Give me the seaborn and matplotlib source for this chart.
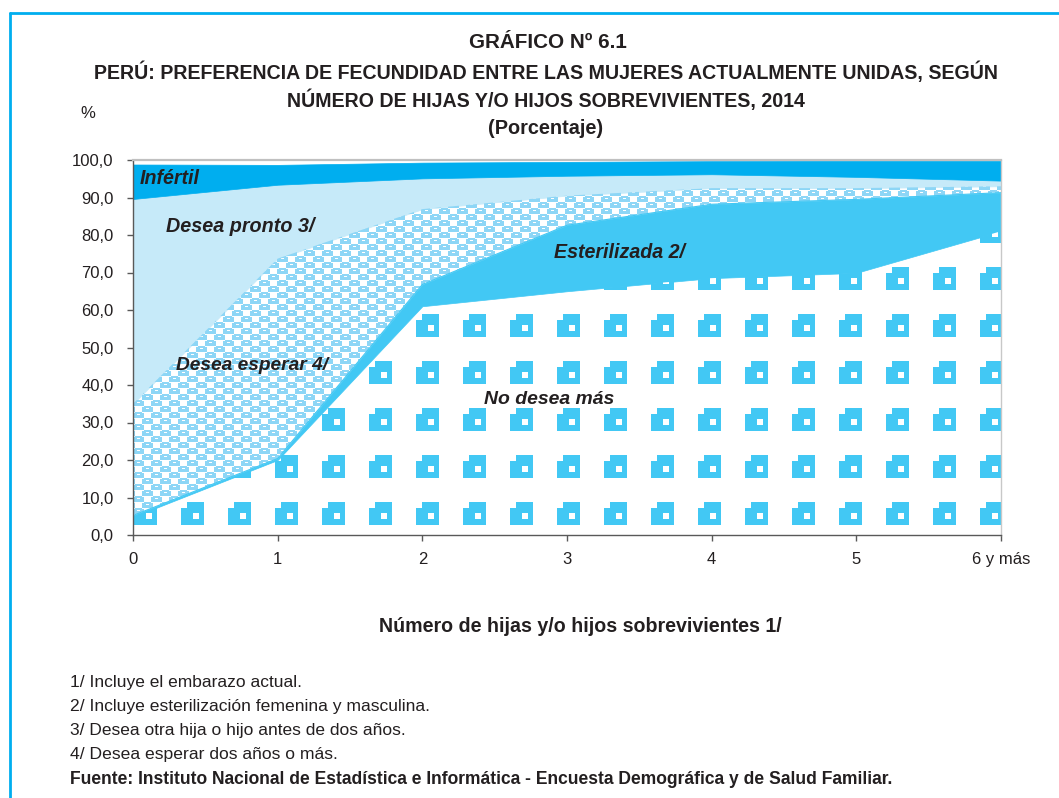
import numpy as np
import pandas as pd
import matplotlib
matplotlib.use("Agg")
import matplotlib.pyplot as plt
import seaborn as sns
from matplotlib.path import Path
from matplotlib.colors import to_rgba
from matplotlib.lines import Line2D

# ---------------- data ----------------
hijos = [0, 1, 2, 3, 4, 5, 6]
x_labels = ["0", "1", "2", "3", "4", "5", "6 y más"]
no_desea = [4.8, 20.0, 61.0, 65.0, 68.5, 69.9, 81.0]
esterilizada = [0.4, 0.4, 5.8, 17.6, 19.7, 19.6, 10.3]
desea_esperar = [29.8, 53.3, 20.1, 7.9, 4.3, 3.0, 1.7]
desea_pronto = [54.6, 19.7, 8.2, 5.3, 3.7, 3.0, 1.5]
infertil = [9.2, 5.3, 4.2, 3.7, 3.5, 4.3, 5.3]
y_ticks = [0, 10, 20, 30, 40, 50, 60, 70, 80, 90, 100]

df = pd.DataFrame({"hijos": hijos, "no_desea": no_desea, "esterilizada": esterilizada,
                   "esperar": desea_esperar, "pronto": desea_pronto, "infertil": infertil})
layers = ["no_desea", "esterilizada", "esperar", "pronto", "infertil"]
cum = df[layers].cumsum(axis=1)

# ---------------- style ----------------
sns.set_theme(style="white")
plt.rcParams["font.family"] = ["Liberation Sans Narrow", "Liberation Sans", "DejaVu Sans"]
TXT = "#231f20"
C_INF = "#00aeef"
C_PRONTO = "#c6eaf9"
C_EST = "#42c8f4"
C_ESP = "#8dd6f6"
C_SQ = "#42c8f4"

W_FIG, H_FIG = 1059, 798
fig = plt.figure(figsize=(W_FIG / 100, H_FIG / 100), dpi=100)
fig.patch.set_facecolor("white")
ax = fig.add_axes([133 / W_FIG, 1 - 535 / H_FIG, 868 / W_FIG, 375 / H_FIG])
ax.set_facecolor("white")

x = df["hijos"].values
bottoms = {}
prev = np.zeros(len(x))
fills = {"no_desea": "white", "esterilizada": C_EST, "esperar": "white",
         "pronto": C_PRONTO, "infertil": C_INF}
for name in layers:
    top = cum[name].values
    ax.fill_between(x, prev, top, facecolor=fills[name],
                    edgecolor=fills[name] if fills[name] != "white" else "none",
                    linewidth=0.5, zorder=2)
    bottoms[name] = (prev.copy(), top.copy())
    prev = top

# thin boundary of the sterilization band (seaborn line)
sns.lineplot(x=x, y=cum["esterilizada"].values, color=C_EST, linewidth=0.8, ax=ax, zorder=4)

ax.set_xlim(0, 6)
ax.set_ylim(0, 100)

fig.canvas.draw()
renderer = fig.canvas.get_renderer()
bb = ax.get_window_extent(renderer)
W, H = int(round(bb.width)), int(round(bb.height))

def region_path(name):
    lo, hi = bottoms[name]
    verts = list(zip(x, hi)) + list(zip(x[::-1], lo[::-1])) + [(x[0], hi[0])]
    codes = [Path.MOVETO] + [Path.LINETO] * (len(verts) - 2) + [Path.CLOSEPOLY]
    return Path(verts, codes)

# pattern of squares for "No desea más"
sq = np.zeros((H, W, 4))
blue = np.array(to_rgba(C_SQ))
def put(arr, r0, r1, c0, c1, val):
    r0c, r1c = max(r0, 0), min(r1, H)
    c0c, c1c = max(c0, 0), min(c1, W)
    if r0c < r1c and c0c < c1c:
        arr[r0c:r1c, c0c:c1c] = val
for k in range(-1, W // 47 + 2):
    for j in range(-1, H // 47 + 2):
        left = 1 + 47 * k
        topr = (H - 33) - 47 * j
        put(sq, topr, topr + 23, left, left + 23, blue)
        put(sq, topr, topr + 6, left, left + 6, np.array([0, 0, 0, 0.0]))
        put(sq, topr + 11, topr + 17, left + 12, left + 18, np.array([1, 1, 1, 1.0]))
im1 = ax.imshow(sq, extent=(0, 6, 0, 100), origin="upper", interpolation="nearest",
                aspect="auto", zorder=3)
im1.set_clip_path(region_path("no_desea"), ax.transData)

# pattern for "Desea esperar"
half = np.zeros((6, 18), dtype=bool)
half[0, 2:9] = True
half[1:6, 0:11] = True
half[2, 4:7] = False
tile = np.vstack([half, np.roll(half, 9, axis=1)])
reps = (H // 12 + 2, W // 18 + 2)
big = np.tile(tile, reps)[:H, :W]
esp = np.zeros((H, W, 4))
esp[big] = to_rgba(C_ESP)
im2 = ax.imshow(esp, extent=(0, 6, 0, 100), origin="upper", interpolation="nearest",
                aspect="auto", zorder=3)
im2.set_clip_path(region_path("esperar"), ax.transData)
ax.set_xlim(0, 6)
ax.set_ylim(0, 100)

# ---------------- axes styling ----------------
for s in ["left", "bottom"]:
    ax.spines[s].set_color("#595959")
    ax.spines[s].set_linewidth(1.0)
ax.spines["top"].set_color("#c0c0c0")
ax.spines["top"].set_linewidth(1.6)
ax.spines["right"].set_color("#c8c8c8")
ax.spines["right"].set_linewidth(1.0)
for s in ax.spines.values():
    s.set_zorder(6)

ax.set_xticks(hijos)
ax.set_xticklabels(x_labels)
ax.set_yticks(y_ticks)
ax.set_yticklabels([f"{v:.1f}".replace(".", ",") for v in y_ticks])
ax.tick_params(axis="both", which="major", direction="out", length=4.5, width=1,
               color="#595959", labelcolor=TXT, labelsize=12, bottom=True, left=True)
ax.tick_params(axis="y", pad=9.5)
ax.tick_params(axis="x", pad=8)
ax.grid(False)

# ---------------- texts ----------------
def fit(t, width_px):
    w = t.get_window_extent(renderer).width
    if w > 0:
        t.set_fontsize(t.get_fontsize() * width_px / w)

def ftext(cx, cy, s, width, **kw):
    t = fig.text(cx / W_FIG, 1 - cy / H_FIG, s, fontsize=12, color=TXT, **kw)
    if width:
        fit(t, width)
    return t

ftext(548, 42, "GRÁFICO Nº 6.1", 157, ha="center", va="center", weight="bold")
ftext(546, 72, "PERÚ: PREFERENCIA DE FECUNDIDAD ENTRE LAS MUJERES ACTUALMENTE UNIDAS, SEGÚN",
      908, ha="center", va="center", weight="bold")
ftext(546, 100, "NÚMERO DE HIJAS Y/O HIJOS SOBREVIVIENTES, 2014", 519,
      ha="center", va="center", weight="bold")
ftext(546, 128, "(Porcentaje)", 115, ha="center", va="center", weight="bold")
ftext(88, 113, "%", None, ha="center", va="center")
ftext(580, 627, "Número de hijas y/o hijos sobrevivientes 1/", 401,
      ha="center", va="center", weight="bold")

notes = ["1/ Incluye el embarazo actual.",
         "2/ Incluye esterilización femenina y masculina.",
         "3/ Desea otra hija o hijo antes de dos años.",
         "4/ Desea esperar dos años o más."]
note_w = [232, 360, 335, 267]
note_y = [682, 706, 730, 754]
for s, w, yy in zip(notes, note_w, note_y):
    ftext(70, yy, s, w, ha="left", va="center")
ftext(70, 779, "Fuente: Instituto Nacional de Estadística e Informática - Encuesta Demográfica y de Salud Familiar.",
      823, ha="left", va="center", weight="bold")

def atext(px, py, s, width):
    xd = (px - 133) / (868 / 6)
    yd = (535 - py) / 3.75
    t = ax.text(xd, yd, s, fontsize=12, color=TXT, ha="left", va="center",
                weight="bold", style="italic", zorder=7)
    fit(t, width)

atext(140, 178, "Infértil", 60)
atext(166, 226, "Desea pronto 3/", 148)
atext(176, 365, "Desea esperar 4/", 152)
atext(554, 253, "Esterilizada 2/", 131)
atext(484, 400, "No desea más", 130)

# frame
fig.add_artist(Line2D([10 / W_FIG, 1.0], [1 - 13 / H_FIG, 1 - 13 / H_FIG],
                      transform=fig.transFigure, color=C_INF, linewidth=2.0))
fig.add_artist(Line2D([10 / W_FIG, 10 / W_FIG], [0.0, 1 - 13 / H_FIG],
                      transform=fig.transFigure, color=C_INF, linewidth=2.0))

fig.savefig("out.png", dpi=100, facecolor="white")
